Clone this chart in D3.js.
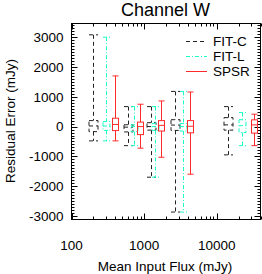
<!DOCTYPE html>
<html>
<head>
<meta charset="utf-8">
<script src="https://cdn.jsdelivr.net/npm/d3@7"></script>
<style>
  body { margin: 0; background: #fff; }
  text { font-family: "Liberation Sans", Arial, sans-serif; fill: #000; }
</style>
</head>
<body>
<svg id="chart" width="262" height="274"></svg>
<script>
// series names + per-series box stats (mJy)
const seriesNames = ["FIT-C", "FIT-L", "SPSR"];

const fluxFitC   = [200, 594, 1245, 2690, 14300];
const hiFitC     = [3080, 670, 670, 1180, 670];
const q3FitC     = [200, 60, 130, 230, 300];
const medFitC    = [20, -20, 0, 50, 57];
const q1FitC     = [-170, -180, -120, -130, -120];
const loFitC     = [-480, -640, -1700, -2870, -950];

const fluxFitL   = [298, 719, 1426, 3436, 22280];
const hiFitL     = [3000, 670, 670, 1180, 470];
const q3FitL     = [170, 60, 100, 100, 230];
const medFitL    = [20, 0, 0, 0, 30];
const q1FitL     = [-130, -170, -130, -150, -200];
const loFitL     = [-480, -640, -1700, -2870, -640];

const fluxSpsr   = [397, 869, 1725, 4246, 32600];
const hiSpsr     = [1700, 750, 860, 1160, 415];
const q3Spsr     = [280, 150, 200, 200, 225];
const medSpsr    = [70, 0, 40, 10, 57];
const q1Spsr     = [-135, -270, -150, -210, -220];
const loSpsr     = [-480, -725, -1030, -1600, -640];

const yTickLabels = [3000, 2000, 1000, 0, -1000, -2000, -3000];
const xTickLabels = [100, 1000, 10000];

const svg = d3.select("#chart");
const plotL = 71.5, plotR = 260.5, plotT = 23.5, plotB = 219.5;

const x = d3.scaleLog().domain([100, 40000]).range([plotL, plotR]);
const y = d3.scaleLinear().domain([-3120, 3460]).range([plotB, plotT]);

// series styling
const styles = [
  {color: "#222", dash: "4,3", boxW: 9},
  {color: "#1affc6", dash: "4,2,1,2", boxW: 7},
  {color: "#ff2a2a", dash: null, boxW: 6}
];

const series = [
  {flux: fluxFitC, hi: hiFitC, q3: q3FitC, med: medFitC, q1: q1FitC, lo: loFitC},
  {flux: fluxFitL, hi: hiFitL, q3: q3FitL, med: medFitL, q1: q1FitL, lo: loFitL},
  {flux: fluxSpsr, hi: hiSpsr, q3: q3Spsr, med: medSpsr, q1: q1Spsr, lo: loSpsr}
];

/* frame */
svg.append("rect")
  .attr("x", plotL).attr("y", plotT)
  .attr("width", plotR - plotL).attr("height", plotB - plotT)
  .attr("fill", "none").attr("stroke", "#000").attr("stroke-width", 1);

/* x ticks (log, majors + minors), bottom and top */
const xMinor = [];
for (let d = 100; d < 40000; d *= 10)
  for (let k = 2; k <= 9; k++) if (d * k <= 40000) xMinor.push(d * k);

const tickG = svg.append("g").attr("stroke", "#000").attr("stroke-width", 1);
xTickLabels.forEach(v => {
  const px = Math.round(x(v)) + 0.5;
  tickG.append("line").attr("x1", px).attr("x2", px).attr("y1", plotB).attr("y2", plotB - 6);
  tickG.append("line").attr("x1", px).attr("x2", px).attr("y1", plotT).attr("y2", plotT + 6);
});
xMinor.forEach(v => {
  const px = Math.round(x(v)) + 0.5;
  tickG.append("line").attr("x1", px).attr("x2", px).attr("y1", plotB).attr("y2", plotB - 3);
  tickG.append("line").attr("x1", px).attr("x2", px).attr("y1", plotT).attr("y2", plotT + 3);
});

/* y ticks every 100, majors every 1000, left and right */
for (let v = -3100; v <= 3400; v += 100) {
  const py = Math.round(y(v)) + 0.5;
  const len = (v % 1000 === 0) ? 6 : 3;
  tickG.append("line").attr("x1", plotL).attr("x2", plotL + len).attr("y1", py).attr("y2", py);
  tickG.append("line").attr("x1", plotR).attr("x2", plotR - len).attr("y1", py).attr("y2", py);
}

/* tick labels */
svg.append("g").selectAll("text")
  .data(yTickLabels).enter().append("text")
  .attr("x", plotL - 8).attr("y", d => y(d))
  .attr("dy", "0.36em")
  .attr("text-anchor", "end")
  .attr("font-size", 13.5)
  .text(d => d);

svg.append("g").selectAll("text")
  .data(xTickLabels).enter().append("text")
  .attr("x", d => x(d)).attr("y", 245)
  .attr("dy", "0.36em")
  .attr("text-anchor", "middle")
  .attr("font-size", 13.5)
  .text(d => d);

/* titles */
svg.append("text").attr("x", 165.5).attr("y", 9.5).attr("dy", "0.36em")
  .attr("text-anchor", "middle").attr("font-size", 18).text("Channel W");
svg.append("text").attr("x", 165).attr("y", 266.5).attr("dy", "0.36em")
  .attr("text-anchor", "middle").attr("font-size", 13.5).text("Mean Input Flux (mJy)");
svg.append("text").attr("transform", "translate(10,121) rotate(-90)")
  .attr("dy", "0.36em")
  .attr("text-anchor", "middle").attr("font-size", 13.5).text("Residual Error (mJy)");

/* boxes */
series.forEach((s, si) => {
  const st = styles[si];
  const g = svg.append("g")
    .attr("stroke", st.color).attr("fill", "none").attr("stroke-width", 1)
    .attr("stroke-dasharray", st.dash);
  s.flux.forEach((f, i) => {
    const cx = Math.round(x(f)) + 0.5;
    const hw = st.boxW / 2;
    // whiskers
    g.append("line").attr("x1", cx).attr("x2", cx).attr("y1", y(s.hi[i])).attr("y2", y(s.q3[i]));
    g.append("line").attr("x1", cx).attr("x2", cx).attr("y1", y(s.q1[i])).attr("y2", y(s.lo[i]));
    // caps
    g.append("line").attr("x1", cx - hw).attr("x2", cx + hw).attr("y1", y(s.hi[i])).attr("y2", y(s.hi[i]));
    g.append("line").attr("x1", cx - hw).attr("x2", cx + hw).attr("y1", y(s.lo[i])).attr("y2", y(s.lo[i]));
    // box + median
    g.append("rect").attr("x", cx - hw).attr("y", y(s.q3[i]))
      .attr("width", st.boxW).attr("height", y(s.q1[i]) - y(s.q3[i]));
    g.append("line").attr("x1", cx - hw).attr("x2", cx + hw).attr("y1", y(s.med[i])).attr("y2", y(s.med[i]));
  });
});

/* legend */
const legend = svg.append("g");
seriesNames.forEach((name, i) => {
  const ly = 41.5 + i * 15;
  legend.append("line")
    .attr("x1", 186).attr("x2", 207).attr("y1", ly).attr("y2", ly)
    .attr("stroke", styles[i].color).attr("stroke-width", 1)
    .attr("stroke-dasharray", styles[i].dash);
  legend.append("text").attr("x", 213).attr("y", ly).attr("dy", "0.36em")
    .attr("font-size", 13.5).text(name);
});
</script>
</body>
</html>
